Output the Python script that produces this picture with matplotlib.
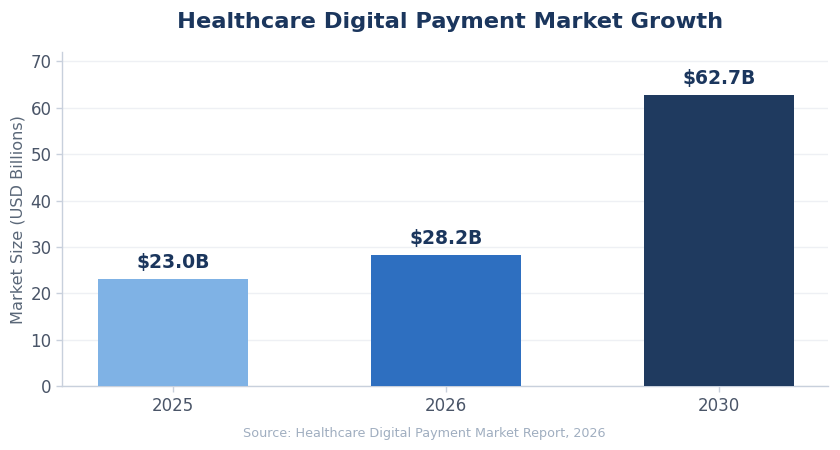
import matplotlib
matplotlib.use('Agg')
from matplotlib import pyplot as plt

# data
years = ['2025', '2026', '2030']
market_size = [23.0, 28.2, 62.7]
bar_colors = ['#7FB2E5', '#2E6FC0', '#1F3A5F']

fig = plt.figure(figsize=(8.4, 4.5), dpi=100)
ax = fig.add_axes([0.074, 0.142, 0.912, 0.742])

x = range(len(years))
ax.bar(x, market_size, color=bar_colors, width=0.55, zorder=3)

# value labels
for i, v in enumerate(market_size):
    ax.text(i, v + 1.5, f'${v:.1f}B', ha='center', va='bottom',
            fontsize=13.5, fontweight='bold', color='#1B365D', zorder=4)

ax.set_xticks(list(x))
ax.set_xticklabels(years)
ax.set_xlim(-0.405, 2.4)
ax.set_ylim(0, 72)
ax.set_yticks(range(0, 71, 10))

fig.text(0.536, 0.951, 'Healthcare Digital Payment Market Growth', fontsize=16.2,
         fontweight='bold', color='#1B365D', ha='center', va='center')
ax.set_ylabel('Market Size (USD Billions)', fontsize=11.6, color='#5A6778',
              labelpad=4)

ax.tick_params(axis='both', labelsize=12, colors='#4A5568', length=4,
               width=1)
ax.tick_params(axis='both', color='#C8D0DC')
ax.grid(axis='y', color='#EEF0F4', linewidth=1, zorder=0)

for side in ['top', 'right']:
    ax.spines[side].set_visible(False)
for side in ['left', 'bottom']:
    ax.spines[side].set_color('#C8D0DC')
    ax.spines[side].set_linewidth(1)

fig.text(0.505, 0.03, 'Source: Healthcare Digital Payment Market Report, 2026',
         ha='center', fontsize=9.2, color='#A0AEC0')

plt.savefig('out.png', dpi=100)
